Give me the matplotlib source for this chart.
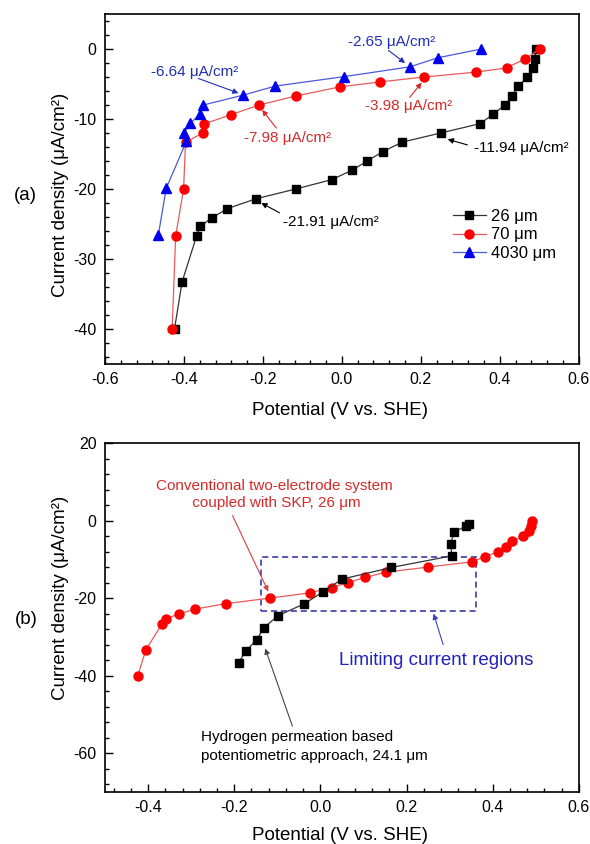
import matplotlib
matplotlib.use("Agg")
import matplotlib.pyplot as plt
from matplotlib.ticker import AutoMinorLocator, MultipleLocator
from matplotlib.patches import Rectangle

plt.rcParams['font.family'] = ['Liberation Sans', 'DejaVu Sans']
plt.rcParams['axes.unicode_minus'] = False

# (a) 26 um (also the SKP curve in panel b)
pot_26 = [0.491, 0.489, 0.484, 0.470, 0.445, 0.432, 0.412, 0.383, 0.351, 0.250, 0.153, 0.104,
          0.064, 0.026, -0.025, -0.117, -0.218, -0.290, -0.329, -0.359, -0.368, -0.405, -0.424]
cur_26 = [0, -1.4, -2.7, -4.05, -5.35, -6.7, -8.05, -9.3, -10.65, -12.0, -13.3, -14.65,
          -16.0, -17.3, -18.65, -20.0, -21.4, -22.8, -24.1, -25.35, -26.7, -33.3, -40.0]

# (a) 70 um
pot_70 = [0.502, 0.464, 0.417, 0.340, 0.208, 0.097, -0.004, -0.116, -0.210, -0.282,
          -0.349, -0.352, -0.396, -0.401, -0.421, -0.430]
cur_70 = [0, -1.4, -2.7, -3.3, -4.0, -4.7, -5.4, -6.7, -8.0, -9.4,
          -10.7, -12.0, -13.3, -20.0, -26.7, -40.0]

# (a) 4030 um
pot_4030 = [0.353, 0.243, 0.172, 0.005, -0.169, -0.251, -0.351, -0.359, -0.384, -0.399,
            -0.394, -0.445, -0.465]
cur_4030 = [0, -1.25, -2.55, -3.95, -5.3, -6.6, -8.0, -9.3, -10.6, -11.95,
            -13.2, -19.9, -26.6]

# (b) hydrogen permeation based potentiometric approach, 24.1 um
pot_hp = [0.346, 0.337, 0.310, 0.303, 0.305, 0.165, 0.050, 0.006, -0.038, -0.098,
          -0.132, -0.148, -0.173, -0.190]
cur_hp = [-0.9, -1.5, -3.0, -6.0, -9.1, -12.1, -15.1, -18.4, -21.5, -24.5,
          -27.7, -30.8, -33.6, -36.7]

# limiting current box in (b): x0, x1, y0, y1
box_b = [-0.138, 0.362, -23.2, -9.4]

BLUE_TXT = '#1f2fb8'
RED_TXT = '#d42a2a'

fig = plt.figure(figsize=(5.9, 8.44), dpi=100)
ax1 = fig.add_axes([0.178, 0.5687, 0.803, 0.4147])
ax2 = fig.add_axes([0.178, 0.0616, 0.803, 0.4135])


def style_axes(ax):
    ax.xaxis.set_minor_locator(AutoMinorLocator(5))
    ax.yaxis.set_minor_locator(AutoMinorLocator(5))
    ax.tick_params(which='both', direction='in', top=False, right=False, labelsize=11.5,
                   width=1, pad=6)
    ax.tick_params(which='major', length=6)
    ax.tick_params(which='minor', length=3)
    for s in ax.spines.values():
        s.set_linewidth(1.2)


# ---- panel (a)
ax1.plot(pot_26, cur_26, '-s', color='#333333', lw=0.9, ms=5.5,
         mfc='black', mec='black', label='26 μm')
ax1.plot(pot_70, cur_70, '-o', color='#e85a5a', lw=0.9, ms=6.5,
         mfc='red', mec='red', label='70 μm')
ax1.plot(pot_4030, cur_4030, '-^', color='#4a5ad8', lw=0.9, ms=6.5,
         mfc='#0000ee', mec='#0000ee', label='4030 μm')

ax1.set_xlim(-0.6, 0.6)
ax1.set_ylim(-45, 5)
ax1.xaxis.set_major_locator(MultipleLocator(0.2))
ax1.yaxis.set_major_locator(MultipleLocator(10))
style_axes(ax1)
ax1.set_xlabel('Potential (V vs. SHE)', fontsize=13.5)
ax1.set_ylabel('Current density (μA/cm²)', fontsize=13.5)
ax1.xaxis.set_label_coords(0.496, -0.108)
ax1.yaxis.set_label_coords(-0.075, 0.483)

leg = ax1.legend(loc='center left', bbox_to_anchor=(0.734, 0.369), frameon=False,
                 fontsize=12, handlelength=2.0, handletextpad=0.3, labelspacing=0.2,
                 borderpad=0, borderaxespad=0)

arrow_kw = dict(arrowstyle='-|>', lw=0.8, mutation_scale=8, shrinkA=0, shrinkB=0)

notes_a = [
    ('-2.65 μA/cm²', (0.125, 1.0), (0.118, -0.2), (0.160, -2.0), BLUE_TXT),
    ('-6.64 μA/cm²', (-0.372, -3.3), (-0.364, -4.2), (-0.262, -6.3), BLUE_TXT),
    ('-3.98 μA/cm²', (0.169, -8.1), (0.172, -6.9), (0.202, -4.8), RED_TXT),
    ('-7.98 μA/cm²', (-0.138, -12.7), (-0.166, -11.3), (-0.202, -8.7), RED_TXT),
    ('-11.94 μA/cm²', (0.455, -14.1), (0.318, -13.7), (0.268, -12.9), 'black'),
    ('-21.91 μA/cm²', (-0.027, -24.7), (-0.158, -23.4), (-0.204, -22.0), 'black'),
]
for txt, tpos, tail, head, col in notes_a:
    ax1.text(tpos[0], tpos[1], txt, color=col, fontsize=11, ha='center', va='center')
    ax1.annotate('', xy=head, xytext=tail, arrowprops=dict(color=col, **arrow_kw))

fig.text(14 / 590, 1 - 196 / 844, '(a)', fontsize=13.5, ha='left', va='center')

# ---- panel (b)
ax2.plot(pot_26, cur_26, '-o', color='#e85a5a', lw=0.9, ms=6.5, mfc='red', mec='red')
ax2.plot(pot_hp, cur_hp, '-s', color='#333333', lw=0.9, ms=5.5, mfc='black', mec='black')

ax2.add_patch(Rectangle((box_b[0], box_b[2]), box_b[1] - box_b[0], box_b[3] - box_b[2],
                        fill=False, ls=(0, (4, 2.5)), lw=1.1, ec='#2a2aa8'))

ax2.set_xlim(-0.5, 0.6)
ax2.set_ylim(-70, 20)
ax2.xaxis.set_major_locator(MultipleLocator(0.2))
ax2.yaxis.set_major_locator(MultipleLocator(20))
style_axes(ax2)
ax2.set_xlabel('Potential (V vs. SHE)', fontsize=13.5)
ax2.set_ylabel('Current density (μA/cm²)', fontsize=13.5)
ax2.xaxis.set_label_coords(0.496, -0.1)
ax2.yaxis.set_label_coords(-0.075, 0.556)

ax2.text(-0.106, 6.7, 'Conventional two-electrode system\n coupled with SKP, 26 μm',
         color=RED_TXT, fontsize=11, ha='center', va='center', linespacing=1.3)
ax2.annotate('', xy=(-0.121, -18.3), xytext=(-0.204, 1.3),
             arrowprops=dict(color='#d84040', **arrow_kw))

ax2.text(0.268, -36.2, 'Limiting current regions', color='#2222bb', fontsize=13.5,
         ha='center', va='center')
ax2.annotate('', xy=(0.263, -24.0), xytext=(0.285, -32.0),
             arrowprops=dict(color='#3344cc', **arrow_kw))

ax2.text(-0.277, -58.3, 'Hydrogen permeation based\npotentiometric approach, 24.1 μm',
         color='black', fontsize=11, ha='left', va='center', linespacing=1.5)
ax2.annotate('', xy=(-0.128, -33.0), xytext=(-0.065, -53.0),
             arrowprops=dict(color='#444444', **arrow_kw))

fig.text(15 / 590, 1 - 620 / 844, '(b)', fontsize=13.5, ha='left', va='center')

fig.savefig('out.png', dpi=100)
